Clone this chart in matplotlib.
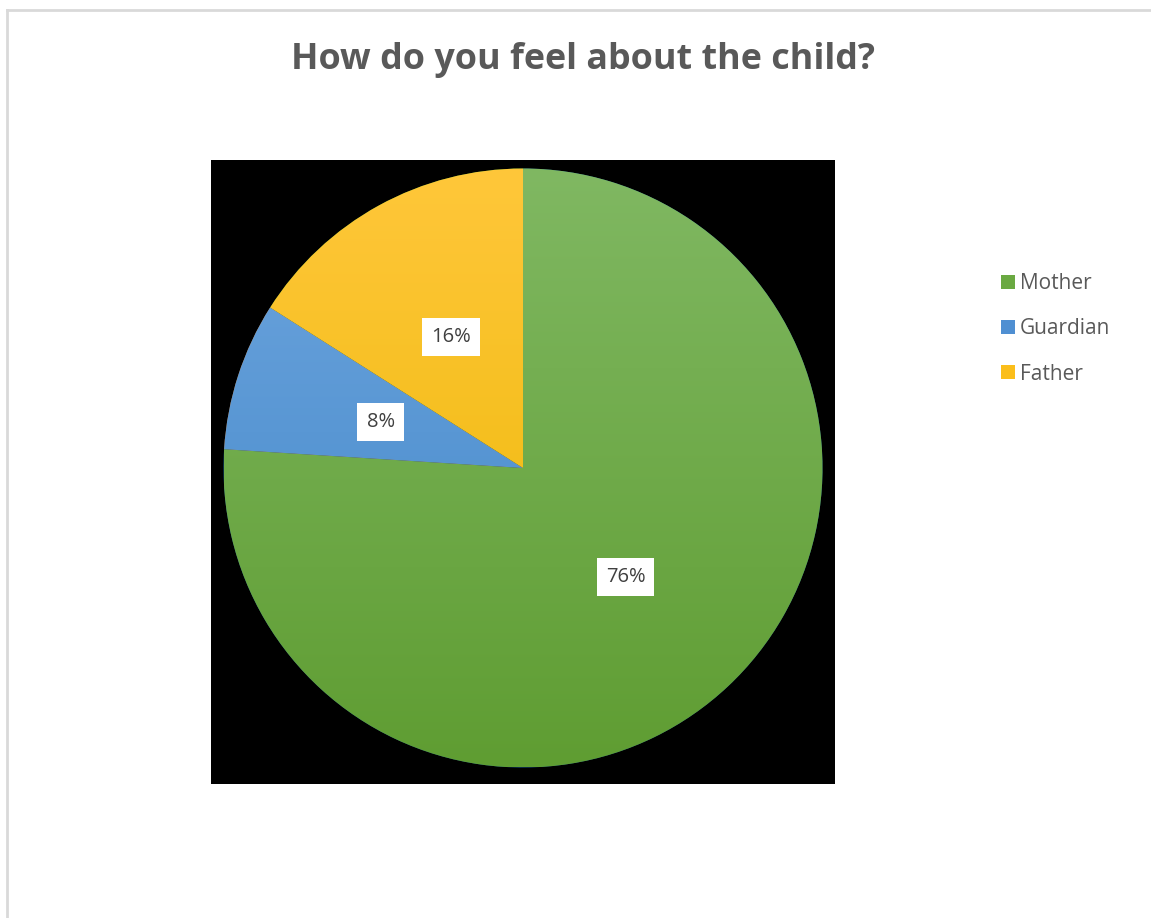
import numpy as np
import matplotlib
matplotlib.use("Agg")
import matplotlib.pyplot as plt
from matplotlib.lines import Line2D
from matplotlib.patches import Rectangle

titulo = "How do you feel about the child?"
categorias = ["Mother", "Guardian", "Father"]
valores = [76, 8, 16]
rotulos = ["76%", "8%", "16%"]

# gradiente vertical de cada fatia: (cor de cima, cor de baixo)
cores_topo = ["#80b862", "#6fa6df", "#ffc73a"]
cores_base = ["#5f9d32", "#3d84c6", "#eab600"]
cores_legenda = ["#6aa942", "#4f8fd2", "#fbbe1a"]

plt.rcParams["font.family"] = ["Open Sans", "DejaVu Sans"]

W, H = 1151, 918
fig = plt.figure(figsize=(W / 100, H / 100), dpi=100)
fig.patch.set_facecolor("white")

# moldura cinza clara (só topo e esquerda aparecem)
fig.add_artist(Line2D([7 / W, 1], [1 - 10 / H, 1 - 10 / H],
                      transform=fig.transFigure, color="#d9d9d9", lw=2))
fig.add_artist(Line2D([7 / W, 7 / W], [0, 1 - 10 / H],
                      transform=fig.transFigure, color="#d9d9d9", lw=2))

fig.text(583 / W, 1 - 60 / H, titulo, ha="center", va="center",
         fontsize=25.8, fontweight="bold", color="#595959")

ax = fig.add_axes([211 / W, 1 - 784 / H, 624 / W, 624 / H])

fatias, textos = ax.pie(valores, startangle=90, counterclock=False, radius=1,
                        wedgeprops=dict(linewidth=0.6, edgecolor="#00000040"))
ax.set_frame_on(True)
ax.set_facecolor("black")
for s in ax.spines.values():
    s.set_visible(False)
ax.set_xticks([])
ax.set_yticks([])

t = np.linspace(0, 1, 256).reshape(-1, 1)
for fatia, c1, c2 in zip(fatias, cores_topo, cores_base):
    a = np.array(matplotlib.colors.to_rgb(c1))
    b = np.array(matplotlib.colors.to_rgb(c2))
    img = a[None, None, :] * (1 - t[..., None]) + b[None, None, :] * t[..., None]
    img = np.repeat(img, 2, axis=1)
    im = ax.imshow(img, extent=[-1, 1, -1, 1], origin="upper",
                   aspect="auto", zorder=fatia.get_zorder() + 0.1)
    im.set_clip_path(fatia)

# rótulos de porcentagem em caixas brancas
soma = sum(valores)
ang = 90.0
for v, r in zip(valores, rotulos):
    meio = np.deg2rad(ang - 360 * v / soma / 2)
    ang -= 360 * v / soma
    ax.text(0.5 * np.cos(meio), 0.5 * np.sin(meio), r, ha="center", va="center",
            fontsize=14.5, color="#404040", zorder=10,
            bbox=dict(boxstyle="square,pad=0.45", fc="white", ec="none"))

ax.set_xlim(-312 / 299.5, 312 / 299.5)
ax.set_ylim(-316 / 299.5, 308 / 299.5)
ax.set_aspect("equal")

# legenda montada à mão
for i, (nome, cor) in enumerate(zip(categorias, cores_legenda)):
    y = 282 + 45 * i
    fig.add_artist(Rectangle((1001 / W, 1 - (y + 7) / H), 14 / W, 14 / H,
                             transform=fig.transFigure, fc=cor, ec="none"))
    fig.text(1020 / W, 1 - (y + 2) / H, nome, ha="left", va="center",
             fontsize=15, color="#595959")

fig.savefig("out.png", dpi=100)
